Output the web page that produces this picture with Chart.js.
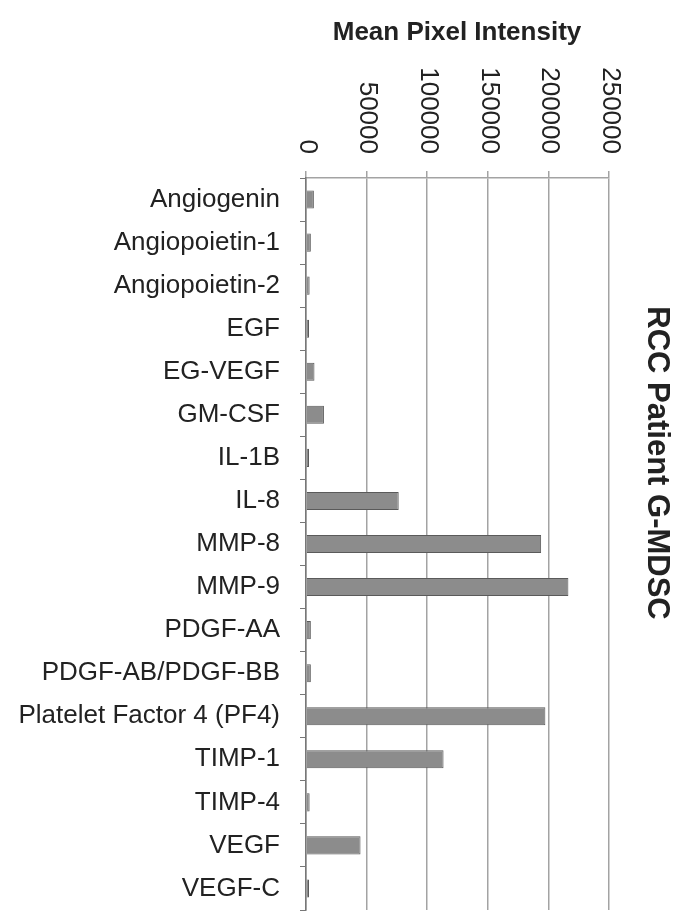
<!DOCTYPE html>
<html>
<head>
<meta charset="utf-8">
<script src="https://cdn.jsdelivr.net/npm/chart.js@4"></script>
<style>
  html, body { margin: 0; padding: 0; background: #fff; }
  #wrap { width: 687px; height: 921px; }
</style>
</head>
<body>
<div id="wrap"><canvas id="chart" width="687" height="921"></canvas></div>
<script>
const categories = [
    "Angiogenin", "Angiopoietin-1", "Angiopoietin-2", "EGF", "EG-VEGF",
    "GM-CSF", "IL-1B", "IL-8", "MMP-8", "MMP-9", "PDGF-AA",
    "PDGF-AB/PDGF-BB", "Platelet Factor 4 (PF4)", "TIMP-1", "TIMP-4",
    "VEGF", "VEGF-C"
]
const meanIntensity = [
    6500, 4000, 3000, 2500, 7000,
    14800, 2500, 76500, 194000, 216500, 4000,
    4000, 197500, 113500, 3000,
    45000, 2500
]
const xTicks = [0, 50000, 100000, 150000, 200000, 250000]
const axisTitle = "Mean Pixel Intensity"
const sideTitle = "RCC Patient G-MDSC"

const FONT = "'Liberation Sans', Arial, sans-serif"

// draws the top tick labels turned clockwise, plus both titles
const textPlugin = {
    id: "textPlugin",
    afterDraw(chart) {
        const ctx = chart.ctx
        const xs = chart.scales.x
        ctx.save()
        ctx.fillStyle = "#222"
        ctx.font = "26px " + FONT
        ctx.textAlign = "right"
        ctx.textBaseline = "middle"
        xTicks.forEach(v => {
            ctx.save()
            ctx.translate(xs.getPixelForValue(v) + 1, 154)
            ctx.rotate(Math.PI / 2)
            ctx.fillText(String(v), 0, 0)
            ctx.restore()
        })

        ctx.font = "bold 26px " + FONT
        ctx.textAlign = "center"
        ctx.textBaseline = "middle"
        ctx.fillText(axisTitle, 457, 33)

        ctx.save()
        ctx.translate(657, 463)
        ctx.rotate(Math.PI / 2)
        ctx.font = "bold 31px " + FONT
        ctx.fillText(sideTitle, 0, 0)
        ctx.restore()
        ctx.restore()
    }
}

const ctx = document.getElementById("chart").getContext("2d")
const chart = new Chart(ctx, {
    type: "bar",
    data: {
        labels: categories,
        datasets: [{
            label: sideTitle,
            data: meanIntensity,
            backgroundColor: "#8c8c8c",
            borderColor: "#5a5a5a",
            borderWidth: 1,
            borderSkipped: "left",
            barPercentage: 0.42,
            categoryPercentage: 1
        }]
    },
    options: {
        indexAxis: "y",
        responsive: false,
        animation: false,
        layout: { padding: { top: 0, right: 78, bottom: 11, left: 0 } },
        plugins: {
            legend: { display: false },
            tooltip: { enabled: false }
        },
        scales: {
            x: {
                position: "top",
                min: 0,
                max: 250000,
                afterBuildTicks: scale => { scale.ticks = xTicks.map(v => ({ value: v })) },
                afterFit: scale => { scale.height = 178 },
                ticks: { display: false },
                grid: {
                    color: "#a3a3a3",
                    lineWidth: 1.5,
                    drawTicks: true,
                    tickLength: 7
                },
                border: { display: true, color: "#a3a3a3", width: 1.5 }
            },
            y: {
                afterFit: scale => {
                    scale.width = 306
                    scale.paddingTop = 0
                    scale.paddingBottom = 0
                },
                ticks: {
                    color: "#222",
                    font: { family: FONT, size: 26 },
                    padding: 20,
                    autoSkip: false
                },
                grid: {
                    offset: true,
                    drawOnChartArea: false,
                    drawTicks: true,
                    tickLength: 6,
                    color: "#777"
                },
                border: { display: true, color: "#777", width: 1.5 }
            }
        }
    },
    plugins: [textPlugin]
})
</script>
</body>
</html>
